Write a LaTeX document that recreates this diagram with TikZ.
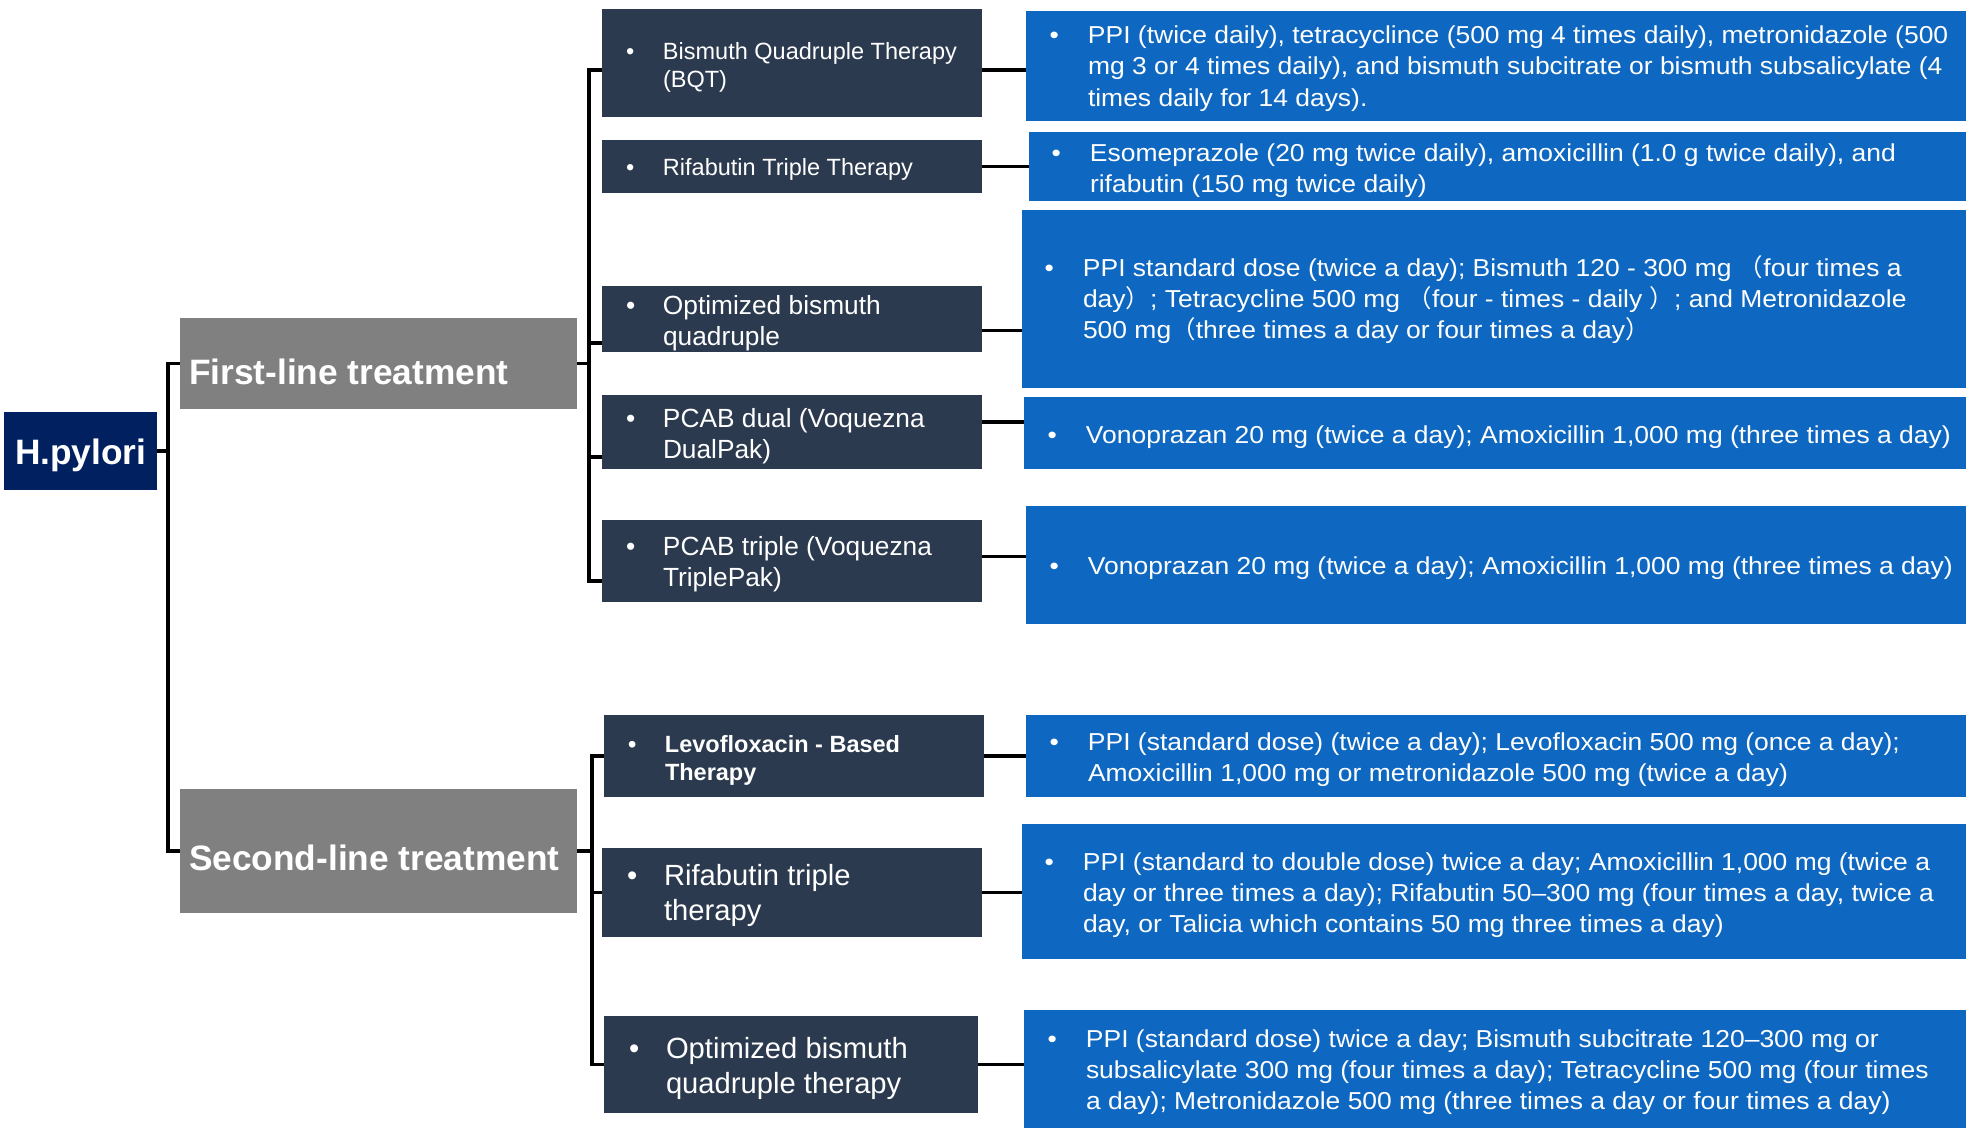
\documentclass[tikz,border=0pt]{standalone}
\usepackage{fontspec}
\setmainfont{Liberation Sans}
\newfontfamily\bluefont[FakeStretch=1.08]{Liberation Sans}
\newfontfamily\cjkfont{Noto Sans CJK SC}
\definecolor{hpnavy}{HTML}{002060}
\definecolor{boxgray}{HTML}{808080}
\definecolor{slate}{HTML}{2B3A4E}
\definecolor{bluebox}{HTML}{0E67C0}
\newcommand{\bl}{\llap{\makebox[38.5pt][l]{•}}\rule{0pt}{0.95em}}
\newcommand{\dl}{\llap{\makebox[37pt][l]{•}}\rule{0pt}{0.95em}}
\newcommand{\st}{\rule{0pt}{0.95em}}
\newcommand{\fpl}{{\cjkfont （}}
\newcommand{\fpr}{{\cjkfont ）}}
\begin{document}
\begin{tikzpicture}[x=1pt,y=-1pt,
  box/.style={draw=none,inner sep=0pt,outer sep=0pt,anchor=north west},
  darkbox/.style={box,fill=slate},
  bluebx/.style={box,fill=bluebox},
  txt/.style={inner sep=0pt,outer sep=0pt,anchor=north west,text=white,align=left},
  dsmall/.style={txt,font=\fontsize{23.5pt}{28.5pt}\selectfont},
  dmid/.style={txt,font=\fontsize{26.3pt}{31pt}\selectfont},
  dbig/.style={txt,font=\fontsize{29.2pt}{35pt}\selectfont},
  btxt/.style={txt,font={\bluefont\fontsize{24.5pt}{31.4pt}\selectfont}},
  mtxt/.style={txt,font=\fontsize{35.3pt}{40pt}\selectfont\bfseries},
  conn/.style={line width=3.6pt,black},
]
\useasboundingbox (0,0) rectangle (1975,1128);
\fill[white] (0,0) rectangle (1975,1128);

% ---- main boxes
\node[box,fill=hpnavy,minimum width=153pt,minimum height=78pt] (hp) at (4,412) {};
\node[box,fill=boxgray,minimum width=397pt,minimum height=91pt] (fl) at (180,318) {};
\node[box,fill=boxgray,minimum width=397pt,minimum height=124pt] (sl) at (180,789) {};
\node[mtxt] (hpt) at (15,{464-33.535}) {\st H.pylori};
\node[mtxt] (flt) at (189,{384-33.535}) {\st First-line treatment};
\node[mtxt] (slt) at (189,{870-33.535}) {\st Second-line treatment};

% ---- dark boxes
\node[darkbox,minimum width=380pt,minimum height=108pt] (d1) at (602,9) {};
\node[darkbox,minimum width=380pt,minimum height=53pt] (d2) at (602,140) {};
\node[darkbox,minimum width=380pt,minimum height=66pt] (d3) at (602,286) {};
\node[darkbox,minimum width=380pt,minimum height=74pt] (d4) at (602,395) {};
\node[darkbox,minimum width=380pt,minimum height=82pt] (d5) at (602,520) {};
\node[darkbox,minimum width=380pt,minimum height=82pt] (d6) at (604,715) {};
\node[darkbox,minimum width=380pt,minimum height=89pt] (d7) at (602,848) {};
\node[darkbox,minimum width=374pt,minimum height=97pt] (d8) at (604,1016) {};

\node[dsmall] (d1t) at (663,{59-22.325}) {\dl Bismuth Quadruple Therapy\\(BQT)};
\node[dsmall] (d2t) at (663,{175-22.325}) {\dl Rifabutin Triple Therapy};
\node[dmid] (d3t) at (663,{314-24.985}) {\dl Optimized bismuth\\quadruple};
\node[dmid] (d4t) at (663,{427-24.985}) {\dl PCAB dual (Voquezna\\DualPak)};
\node[dmid] (d5t) at (663,{555-24.985}) {\dl PCAB triple (Voquezna\\TriplePak)};
\node[dsmall,font=\fontsize{23.5pt}{28.5pt}\selectfont\bfseries] (d6t) at (665,{752-22.325}) {\dl Levofloxacin - Based\\Therapy};
\node[dbig] (d7t) at (664,{885-27.74}) {\dl Rifabutin triple\\therapy};
\node[dbig] (d8t) at (666,{1058-27.74}) {\dl Optimized bismuth\\quadruple therapy};

% ---- blue boxes
\node[bluebx,minimum width=940pt,minimum height=110pt] (b1) at (1026,11) {};
\node[bluebx,minimum width=937pt,minimum height=69pt] (b2) at (1029,132) {};
\node[bluebx,minimum width=944pt,minimum height=178pt] (b3) at (1022,210) {};
\node[bluebx,minimum width=942pt,minimum height=72pt] (b4) at (1024,397) {};
\node[bluebx,minimum width=940pt,minimum height=118pt] (b5) at (1026,506) {};
\node[bluebx,minimum width=940pt,minimum height=82pt] (b6) at (1026,715) {};
\node[bluebx,minimum width=944pt,minimum height=135pt] (b7) at (1022,824) {};
\node[bluebx,minimum width=942pt,minimum height=118pt] (b8) at (1024,1010) {};

\node[btxt] (b1t) at (1088,{43.3-23.275}) {\bl PPI (twice daily), tetracyclince (500 mg 4 times daily), metronidazole (500\\mg 3 or 4 times daily), and bismuth subcitrate or bismuth subsalicylate (4\\times daily for 14 days).};
\node[btxt] (b2t) at (1090,{161-23.275}) {\bl Esomeprazole (20 mg twice daily), amoxicillin (1.0 g twice daily), and\\rifabutin (150 mg twice daily)};
\node[btxt] (b3t) at (1083,{276-23.275}) {\bl PPI standard dose (twice a day); Bismuth 120 - 300 mg \fpl four times a\\day\fpr; Tetracycline 500 mg \fpl four - times - daily \fpr; and Metronidazole\\500 mg\fpl three times a day or four times a day\fpr};
\node[btxt] (b4t) at (1086,{443-23.275}) {\bl Vonoprazan 20 mg (twice a day); Amoxicillin 1,000 mg (three times a day)};
\node[btxt] (b5t) at (1088,{574-23.275}) {\bl Vonoprazan 20 mg (twice a day); Amoxicillin 1,000 mg (three times a day)};
\node[btxt] (b6t) at (1088,{750-23.275}) {\bl PPI (standard dose) (twice a day); Levofloxacin 500 mg (once a day);\\Amoxicillin 1,000 mg or metronidazole 500 mg (twice a day)};
\node[btxt] (b7t) at (1083,{870-23.275}) {\bl PPI (standard to double dose) twice a day; Amoxicillin 1,000 mg (twice a\\day or three times a day); Rifabutin 50–300 mg (four times a day, twice a\\day, or Talicia which contains 50 mg three times a day)};
\node[btxt] (b8t) at (1086,{1047-23.275}) {\bl PPI (standard dose) twice a day; Bismuth subcitrate 120–300 mg or\\subsalicylate 300 mg (four times a day); Tetracycline 500 mg (four times\\a day); Metronidazole 500 mg (three times a day or four times a day)};

% ---- connectors: main
\coordinate (sp0) at (168,451);
\draw[conn] (hp.east) -- (sp0);
\draw[conn] (fl.west) -| (sp0) |- (sl.west);

% ---- first-line group
\coordinate (sp1) at (589,363.5);
\coordinate (l1) at ([yshift=-7pt]d1.west);
\coordinate (l3) at ([yshift=-24pt]d3.west);
\coordinate (l4) at ([yshift=-25pt]d4.west);
\coordinate (l5) at ([yshift=-20pt]d5.west);
\draw[conn] (fl.east) -- (sp1);
\draw[conn] (l1) -| (sp1) |- (l5);
\draw[conn] (l3) -- (l3 -| sp1);
\draw[conn] (l4) -- (l4 -| sp1);

\coordinate (r1) at ([yshift=-7pt]d1.east);
\coordinate (r3) at ([yshift=-11.5pt]d3.east);
\coordinate (r4) at ([yshift=10pt]d4.east);
\coordinate (r5) at ([yshift=4.5pt]d5.east);
\draw[conn] (r1) -- (r1 -| b1.west);
\draw[conn] (d2.east) -- (d2.east -| b2.west);
\draw[conn] (r3) -- (r3 -| b3.west);
\draw[conn] (r4) -- (r4 -| b4.west);
\draw[conn] (r5) -- (r5 -| b5.west);

% ---- second-line group
\coordinate (sp2) at (592,851);
\draw[conn] (sl.east) -- (sp2);
\draw[conn] (d6.west) -| (sp2) |- (d8.west);
\draw[conn] (d7.west) -- (d7.west -| sp2);
\draw[conn] (d6.east) -- (d6.east -| b6.west);
\draw[conn] (d7.east) -- (d7.east -| b7.west);
\draw[conn] (d8.east) -- (d8.east -| b8.west);
\end{tikzpicture}
\end{document}
